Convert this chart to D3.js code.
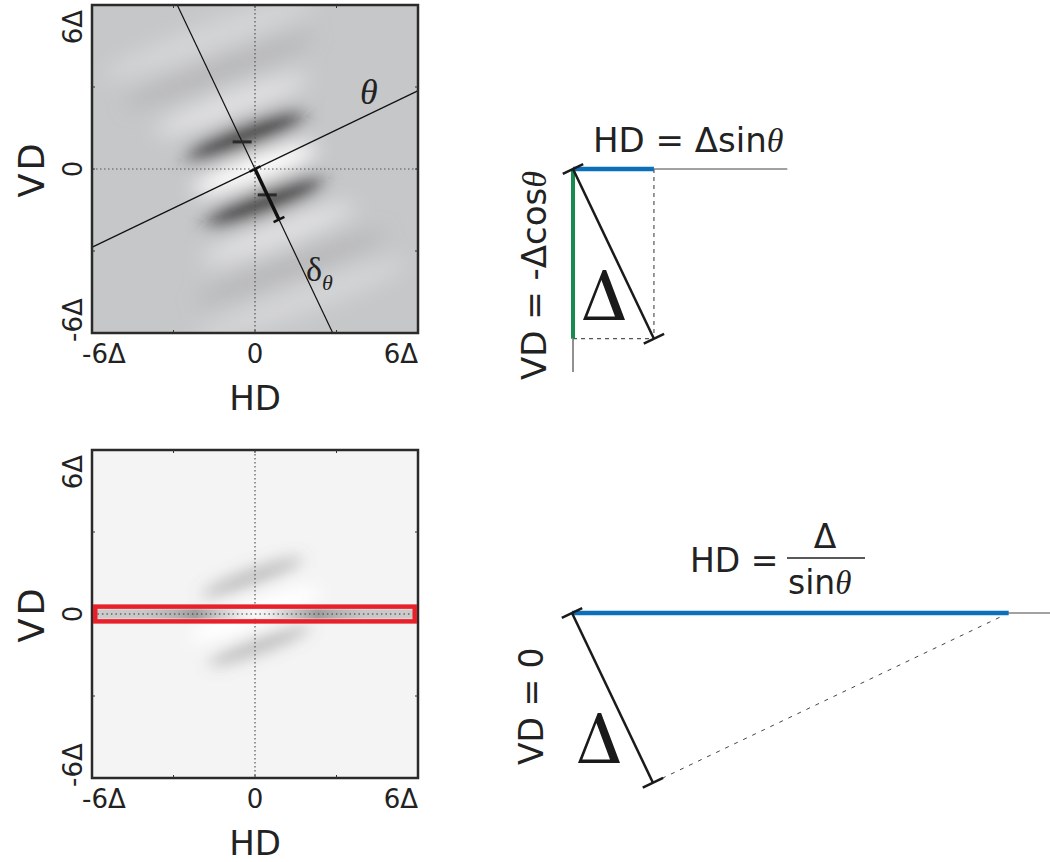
<!DOCTYPE html>
<html>
<head>
<meta charset="utf-8">
<script src="https://cdn.jsdelivr.net/npm/d3@7"></script>
<style>
  html, body { margin: 0; padding: 0; background: #fff; }
  svg { display: block; }
  text { font-family: "DejaVu Sans", sans-serif; fill: #222; }
  text.serif, tspan.serif { font-family: "Liberation Serif", "Times New Roman", serif; }
</style>
</head>
<body>
<svg id="chart" width="1050" height="862"></svg>
<script>
// ---- data (Δ units) ----
const axisTicks = [-6, -3, 0, 3, 6];
const tickLabels = ["-6Δ", "0", "6Δ"];     // at -6, 0, 6
const thetaDeg = 25.5;                     // stripe orientation θ
const stripeAngle = 20;                    // tilt of the gray bands, deg

// blobs of the correlation maps: [hd, vd, half length, half width, tone, opacity]
const topBlobs = [
  [0.0, 0.0, 2.4, 0.5, "#ffffff", 1],
  [-0.85, 2.35, 3.0, 0.5, "#f0f0f0", 0.6],
  [0.85, -2.35, 3.0, 0.5, "#f0f0f0", 0.6],
  [-1.3, 3.6, 3.8, 0.5, "#9a9a9a", 0.3],
  [1.3, -3.6, 3.8, 0.5, "#9a9a9a", 0.3],
  [-1.7, 4.8, 4.2, 0.5, "#ffffff", 0.25],
  [1.7, -4.8, 4.2, 0.5, "#ffffff", 0.25],
  [-0.35, 1.2, 2.3, 0.4, "#1a1a1a", 0.95],
  [0.35, -1.2, 2.3, 0.4, "#1a1a1a", 0.95]
];
const bottomBlobs = [
  [0.0, 0.0, 2.6, 0.5, "#ffffff", 1],
  [-0.1, 1.35, 2.0, 0.28, "#707070", 0.45],
  [0.15, -1.15, 2.0, 0.28, "#707070", 0.45]
];
// profile of the VD = 0 row (hd, gray level 0..1)
const stripProfile = [
  [-6, 0.8], [-4, 0.78], [-2.9, 0.7], [-2.2, 0.62], [-1.4, 0.78],
  [-0.5, 0.93], [0, 0.97], [0.5, 0.93], [1.4, 0.78], [2.3, 0.62],
  [3.0, 0.7], [4, 0.78], [6, 0.8]
];
const deltaSegLen = 2.05;          // δθ thick segment
const bandMarks = [-1.1, 1.05];    // dark dashes along δθ
const delta = 1;                   // diagram Δ length

const svg = d3.select("#chart");
const defs = svg.append("defs");
const rad = thetaDeg * Math.PI / 180;

// ---- heat-map panels ----
const panels = [
  { id: "top", y0: 5, y1: 333, bg: "#c6c7c9", blobs: topBlobs, blur: 10 },
  { id: "bot", y0: 450, y1: 778, bg: "#f4f4f4", blobs: bottomBlobs, blur: 8 }
];

panels.forEach(p => {
  const x = d3.scaleLinear().domain([-6, 6]).range([92, 418]);
  const y = d3.scaleLinear().domain([-6, 6]).range([p.y1, p.y0]);
  const k = x(1) - x(0);
  p.x = x; p.y = y;

  defs.append("clipPath").attr("id", "clip-" + p.id)
    .append("rect").attr("x", x(-6)).attr("y", y(6))
    .attr("width", x(6) - x(-6)).attr("height", y(-6) - y(6));
  defs.append("filter").attr("id", "blur-" + p.id)
    .attr("x", "-50%").attr("y", "-50%").attr("width", "200%").attr("height", "200%")
    .append("feGaussianBlur").attr("stdDeviation", p.blur);

  const g = svg.append("g").attr("clip-path", `url(#clip-${p.id})`);
  g.append("rect").attr("x", x(-6)).attr("y", y(6))
    .attr("width", x(6) - x(-6)).attr("height", y(-6) - y(6)).attr("fill", p.bg);

  g.append("g").attr("filter", `url(#blur-${p.id})`)
    .selectAll("ellipse").data(p.blobs).join("ellipse")
    .attr("cx", d => x(d[0])).attr("cy", d => y(d[1]))
    .attr("rx", d => d[2] * k).attr("ry", d => d[3] * k)
    .attr("fill", d => d[4]).attr("opacity", d => d[5])
    .attr("transform", d => `rotate(${-stripeAngle},${x(d[0])},${y(d[1])})`);

  // dotted zero lines
  g.append("line").attr("x1", x(0)).attr("x2", x(0)).attr("y1", y(6)).attr("y2", y(-6))
    .attr("stroke", "#555").attr("stroke-width", 1.2).attr("stroke-dasharray", "1.5,2.5");
  g.append("line").attr("x1", x(-6)).attr("x2", x(6)).attr("y1", y(0)).attr("y2", y(0))
    .attr("stroke", "#555").attr("stroke-width", 1.2).attr("stroke-dasharray", "1.5,2.5");
  p.g = g;

  // box and small ticks
  svg.append("rect").attr("x", x(-6)).attr("y", y(6))
    .attr("width", x(6) - x(-6)).attr("height", y(-6) - y(6))
    .attr("fill", "none").attr("stroke", "#2a2a2a").attr("stroke-width", 2.5);
  const tk = svg.append("g").attr("stroke", "#333").attr("stroke-width", 1);
  axisTicks.slice(1, -1).forEach(t => {
    tk.append("line").attr("x1", x(t)).attr("x2", x(t)).attr("y1", y(6)).attr("y2", y(6) + 3);
    tk.append("line").attr("x1", x(t)).attr("x2", x(t)).attr("y1", y(-6)).attr("y2", y(-6) - 3);
    tk.append("line").attr("y1", y(t)).attr("y2", y(t)).attr("x1", x(-6)).attr("x2", x(-6) + 3);
    tk.append("line").attr("y1", y(t)).attr("y2", y(t)).attr("x1", x(6)).attr("x2", x(6) - 3);
  });

  // tick labels
  const lx = svg.append("g").attr("font-size", 26);
  lx.append("text").attr("x", x(-6) - 10).attr("y", y(-6) + 30).attr("text-anchor", "start").text(tickLabels[0]);
  lx.append("text").attr("x", x(0)).attr("y", y(-6) + 30).attr("text-anchor", "middle").text(tickLabels[1]);
  lx.append("text").attr("x", x(6)).attr("y", y(-6) + 30).attr("text-anchor", "end").text(tickLabels[2]);
  const ly = (val, anchor, dy, label) => lx.append("text")
    .attr("transform", `translate(${x(-6) - 10},${y(val) + dy}) rotate(-90)`)
    .attr("text-anchor", anchor).text(label);
  ly(6, "end", 5, tickLabels[2]);
  ly(0, "middle", 0, tickLabels[1]);
  ly(-6, "start", 9, tickLabels[0]);

  // axis titles
  svg.append("text").attr("x", x(0)).attr("y", y(-6) + 77).attr("text-anchor", "middle")
    .attr("font-size", 34).text("HD");
  svg.append("text").attr("transform", `translate(44,${y(0)}) rotate(-90)`)
    .attr("text-anchor", "middle").attr("font-size", 35).attr("letter-spacing", 3).text("VD");
});

// ---- top map: θ and δθ axes ----
{
  const p = panels[0], x = p.x, y = p.y, g = p.g;
  const ux = Math.cos(rad), uy = Math.sin(rad);       // θ direction
  const vx = Math.sin(rad), vy = -Math.cos(rad);      // δθ direction (down-right)
  g.append("line").attr("x1", x(-10 * ux)).attr("y1", y(-10 * uy))
    .attr("x2", x(10 * ux)).attr("y2", y(10 * uy)).attr("stroke", "#111").attr("stroke-width", 1.2);
  g.append("line").attr("x1", x(-10 * vx)).attr("y1", y(-10 * vy))
    .attr("x2", x(10 * vx)).attr("y2", y(10 * vy)).attr("stroke", "#111").attr("stroke-width", 1.2);

  // dark dashes where δθ crosses the dark bands
  g.selectAll(".mark").data(bandMarks).join("line")
    .attr("x1", t => x(t * vx - 0.35)).attr("x2", t => x(t * vx + 0.35))
    .attr("y1", t => y(t * vy)).attr("y2", t => y(t * vy))
    .attr("stroke", "#2a2a2a").attr("stroke-width", 3);

  // thick δθ segment with end caps
  g.append("line").attr("x1", x(0)).attr("y1", y(0))
    .attr("x2", x(deltaSegLen * vx)).attr("y2", y(deltaSegLen * vy))
    .attr("stroke", "#111").attr("stroke-width", 3.5);
  [0, deltaSegLen].forEach(t => {
    g.append("line")
      .attr("x1", x(t * vx - 0.22 * ux)).attr("y1", y(t * vy - 0.22 * uy))
      .attr("x2", x(t * vx + 0.22 * ux)).attr("y2", y(t * vy + 0.22 * uy))
      .attr("stroke", "#111").attr("stroke-width", 2.5);
  });

  svg.append("text").attr("class", "serif").attr("x", 360).attr("y", 104)
    .attr("font-size", 36).attr("font-style", "italic").text("θ");
  const dt = svg.append("text").attr("class", "serif").attr("x", 306).attr("y", 281).attr("font-size", 34);
  dt.append("tspan").text("δ");
  dt.append("tspan").attr("dy", 9).attr("font-size", 22).attr("font-style", "italic").text("θ");
}

// ---- bottom map: VD = 0 row highlighted ----
{
  const p = panels[1], x = p.x, y = p.y;
  const grad = defs.append("linearGradient").attr("id", "rowGrad")
    .attr("gradientUnits", "userSpaceOnUse")
    .attr("x1", x(-6)).attr("x2", x(6)).attr("y1", 0).attr("y2", 0);
  grad.selectAll("stop").data(stripProfile).join("stop")
    .attr("offset", d => (d[0] + 6) / 12)
    .attr("stop-color", d => d3.rgb(255 * d[1], 255 * d[1], 255 * d[1]).formatHex());
  svg.append("rect").attr("x", x(-5.85)).attr("y", y(0.17))
    .attr("width", x(5.85) - x(-5.85)).attr("height", y(-0.17) - y(0.17))
    .attr("fill", "url(#rowGrad)");
  svg.append("line").attr("x1", x(-5.8)).attr("x2", x(5.8)).attr("y1", y(0)).attr("y2", y(0))
    .attr("stroke", "#333").attr("stroke-width", 1.2).attr("stroke-dasharray", "1.5,3");
  svg.append("rect").attr("x", x(-5.88)).attr("y", y(0.27))
    .attr("width", x(5.88) - x(-5.88)).attr("height", y(-0.27) - y(0.27))
    .attr("fill", "none").attr("stroke", "#e8202a").attr("stroke-width", 4.5);
}

// ---- geometry diagrams ----
function diagram(ox, oy, hd, vd, extH, extV) {
  const dx = d3.scaleLinear().domain([0, 1]).range([ox, ox + 188]);
  const dy = d3.scaleLinear().domain([0, -1]).range([oy, oy + 188]);
  const g = svg.append("g");
  const ex = delta * Math.sin(rad), ey = -delta * Math.cos(rad);  // end of Δ

  // thin continuation lines
  g.append("line").attr("x1", dx(hd)).attr("x2", dx(extH)).attr("y1", dy(0)).attr("y2", dy(0))
    .attr("stroke", "#444").attr("stroke-width", 1);
  if (extV !== null) {
    g.append("line").attr("x1", dx(0)).attr("x2", dx(0)).attr("y1", dy(vd)).attr("y2", dy(extV))
      .attr("stroke", "#222").attr("stroke-width", 1);
  }
  // dashed construction lines
  if (vd !== 0) {
    const dashed = s => s.attr("stroke", "#555").attr("stroke-width", 1.2).attr("stroke-dasharray", "4,4");
    g.append("line").attr("x1", dx(hd)).attr("x2", dx(hd)).attr("y1", dy(0)).attr("y2", dy(vd)).call(dashed);
    g.append("line").attr("x1", dx(0)).attr("x2", dx(hd)).attr("y1", dy(vd)).attr("y2", dy(vd)).call(dashed);
    g.append("line").attr("x1", dx(0)).attr("x2", dx(0)).attr("y1", dy(0)).attr("y2", dy(vd))
      .attr("stroke", "#168a4f").attr("stroke-width", 4);
  } else {
    g.append("line").attr("x1", dx(ex)).attr("y1", dy(ey)).attr("x2", dx(hd)).attr("y2", dy(0))
      .attr("stroke", "#444").attr("stroke-width", 1).attr("stroke-dasharray", "4,6");
  }
  g.append("line").attr("x1", dx(0)).attr("x2", dx(hd)).attr("y1", dy(0)).attr("y2", dy(0))
    .attr("stroke", "#0b6fba").attr("stroke-width", 4.5);

  // Δ segment with caps
  g.append("line").attr("x1", dx(0)).attr("y1", dy(0)).attr("x2", dx(ex)).attr("y2", dy(ey))
    .attr("stroke", "#1a1a1a").attr("stroke-width", 2.5);
  const cx = 0.06 * Math.cos(rad), cy = 0.06 * Math.sin(rad);
  [[0, 0], [ex, ey]].forEach(([px, py]) => {
    g.append("line").attr("x1", dx(px - cx)).attr("y1", dy(py - cy))
      .attr("x2", dx(px + cx)).attr("y2", dy(py + cy))
      .attr("stroke", "#1a1a1a").attr("stroke-width", 2.5);
  });
  return { dx, dy };
}

// big Δ label: thin left stroke, thick right stroke
function bigDelta(x0, yb) {
  const w = 42, h = 50;
  svg.append("path")
    .attr("d", `M${x0},${yb} L${x0 + w * 0.47},${yb - h} L${x0 + w * 0.55},${yb - h} L${x0 + w},${yb} Z
      M${x0 + 4.3},${yb - 3.5} L${x0 + 32},${yb - 3.5} L${x0 + 18.4},${yb - 40} Z`)
    .attr("fill", "#1a1a1a").attr("fill-rule", "evenodd");
}

// top: HD = Δ sinθ, VD = -Δ cosθ
{
  const hd = delta * Math.sin(rad), vd = -delta * Math.cos(rad);
  diagram(573, 169, hd, vd, 1.14, -1.08);
  bigDelta(583, 320);
  const t = svg.append("text").attr("x", 593).attr("y", 152).attr("font-size", 34);
  t.append("tspan").text("HD = Δsin");
  t.append("tspan").attr("class", "serif").attr("font-style", "italic").text("θ");
  const v = svg.append("text").attr("transform", "translate(546,380) rotate(-90)").attr("font-size", 34);
  v.append("tspan").text("VD = -Δcos");
  v.append("tspan").attr("class", "serif").attr("font-style", "italic").text("θ");
}

// bottom: HD = Δ / sinθ, VD = 0
{
  const hd = delta / Math.sin(rad);
  diagram(572, 613, hd, 0, 2.55, null);
  bigDelta(578, 763);
  svg.append("text").attr("x", 690).attr("y", 572).attr("font-size", 33).text("HD =");
  svg.append("text").attr("x", 825).attr("y", 548).attr("font-size", 33).attr("text-anchor", "middle").text("Δ");
  svg.append("line").attr("x1", 787).attr("x2", 865).attr("y1", 558).attr("y2", 558)
    .attr("stroke", "#222").attr("stroke-width", 1.5);
  const s = svg.append("text").attr("x", 788).attr("y", 594).attr("font-size", 33);
  s.append("tspan").text("sin");
  s.append("tspan").attr("class", "serif").attr("font-style", "italic").text("θ");
  svg.append("text").attr("transform", "translate(543,765) rotate(-90)").attr("font-size", 33).text("VD = 0");
}
</script>
</body>
</html>
